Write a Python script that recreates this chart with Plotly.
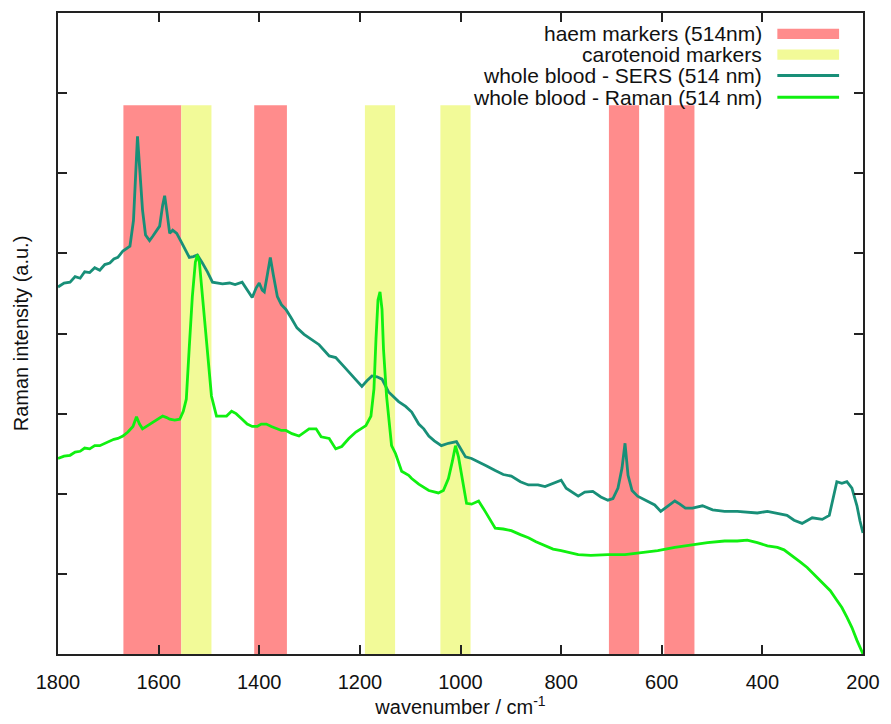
import plotly.graph_objects as go

# ---------------- data ----------------
sers_wn = [1800, 1788, 1776, 1766, 1756, 1747, 1737, 1727, 1717, 1707, 1697, 1689, 1681, 1671, 1657, 1650, 1642, 1636, 1632, 1626, 1618,
           1612, 1604, 1598, 1592, 1588, 1584, 1578, 1572, 1564, 1554, 1547, 1539, 1531, 1523, 1513,
           1503, 1493, 1483, 1473, 1459, 1448, 1434, 1424, 1414, 1406, 1400, 1394, 1390, 1384, 1378,
           1372, 1364, 1356, 1347, 1337, 1325, 1311, 1297, 1281, 1261, 1248, 1232, 1218, 1206, 1196,
           1186, 1176, 1166, 1156, 1143, 1133, 1123, 1109, 1097, 1083, 1073, 1063, 1052, 1038, 1024,
           1008, 998, 990, 978, 964, 949, 931, 915, 899, 881, 865, 846, 832, 816, 800,
           790, 780, 766, 753, 737, 721, 707, 697, 687, 679, 673, 667, 659, 648, 632,
           614, 602, 588, 574, 564, 553, 539, 519, 499, 475, 450, 430, 410, 390, 370,
           351, 337, 321, 301, 281, 267, 260, 252, 242, 232, 222, 212, 206, 200]
sers_int = [4.58, 4.63, 4.64, 4.71, 4.69, 4.77, 4.76, 4.82, 4.79, 4.86, 4.88, 4.93, 4.95, 5.03, 5.09, 5.41, 6.46, 5.97, 5.54, 5.23, 5.16,
            5.21, 5.29, 5.34, 5.60, 5.72, 5.54, 5.25, 5.29, 5.25, 5.13, 5.04, 4.95, 4.96, 4.98, 4.88,
            4.77, 4.64, 4.63, 4.62, 4.63, 4.61, 4.64, 4.54, 4.45, 4.57, 4.63, 4.54, 4.52, 4.73, 4.95,
            4.73, 4.46, 4.36, 4.30, 4.20, 4.07, 3.99, 3.93, 3.86, 3.72, 3.70, 3.59, 3.49, 3.41, 3.34,
            3.41, 3.47, 3.46, 3.43, 3.27, 3.21, 3.15, 3.09, 3.02, 2.87, 2.81, 2.72, 2.66, 2.60, 2.63,
            2.65, 2.54, 2.46, 2.44, 2.40, 2.35, 2.29, 2.24, 2.22, 2.15, 2.11, 2.11, 2.09, 2.13, 2.17,
            2.07, 2.03, 1.97, 2.02, 2.03, 1.96, 1.92, 1.94, 2.07, 2.32, 2.63, 2.23, 2.04, 1.97, 1.92,
            1.86, 1.78, 1.85, 1.91, 1.87, 1.82, 1.82, 1.85, 1.80, 1.78, 1.78, 1.77, 1.76, 1.78, 1.75,
            1.73, 1.67, 1.63, 1.70, 1.68, 1.73, 1.94, 2.15, 2.13, 2.15, 2.07, 1.85, 1.66, 1.51]

raman_wn = [1800, 1788, 1776, 1766, 1756, 1747, 1737, 1727, 1717, 1707, 1697, 1689, 1681, 1671, 1661, 1651, 1644, 1638, 1632, 1622, 1612,
            1602, 1592, 1584, 1578, 1568, 1558, 1551, 1545, 1539, 1533, 1527, 1523, 1519, 1513, 1505,
            1495, 1485, 1475, 1465, 1455, 1446, 1434, 1424, 1414, 1404, 1396, 1386, 1376, 1366, 1356,
            1347, 1335, 1321, 1311, 1301, 1287, 1277, 1261, 1248, 1236, 1222, 1208, 1196, 1188, 1178,
            1172, 1168, 1164, 1160, 1156, 1153, 1147, 1137, 1129, 1117, 1103, 1097, 1083, 1063, 1044,
            1034, 1024, 1016, 1010, 1004, 998, 992, 988, 978, 964, 951, 941, 931, 915, 899,
            881, 865, 850, 832, 816, 800, 782, 766, 741, 707, 673, 642, 608, 574, 543,
            509, 475, 450, 430, 410, 390, 370, 357, 341, 325, 311, 295, 281, 265, 252,
            242, 232, 222, 212, 200]
raman_int = [2.44, 2.47, 2.48, 2.52, 2.53, 2.57, 2.56, 2.60, 2.60, 2.63, 2.65, 2.68, 2.69, 2.72, 2.77, 2.84, 2.96, 2.87, 2.81, 2.85, 2.89,
             2.93, 2.97, 2.95, 2.93, 2.92, 2.93, 3.03, 3.18, 3.84, 4.46, 4.89, 4.98, 4.89, 4.46, 3.84,
             3.22, 2.97, 2.97, 2.97, 3.03, 3.00, 2.93, 2.87, 2.84, 2.84, 2.87, 2.87, 2.84, 2.81, 2.79,
             2.79, 2.75, 2.72, 2.76, 2.81, 2.81, 2.71, 2.69, 2.56, 2.59, 2.69, 2.77, 2.82, 2.85, 2.97,
             3.31, 3.93, 4.42, 4.52, 4.30, 3.80, 3.22, 2.60, 2.50, 2.28, 2.23, 2.19, 2.12, 2.04, 2.01,
             2.04, 2.19, 2.41, 2.60, 2.46, 2.23, 2.01, 1.88, 1.87, 1.91, 1.78, 1.67, 1.57, 1.56, 1.54,
             1.49, 1.45, 1.40, 1.35, 1.31, 1.29, 1.26, 1.24, 1.23, 1.24, 1.24, 1.26, 1.29, 1.33, 1.36,
             1.39, 1.41, 1.41, 1.42, 1.39, 1.35, 1.33, 1.30, 1.23, 1.15, 1.08, 0.98, 0.89, 0.79, 0.67,
             0.58, 0.46, 0.33, 0.17, 0.00]

haem_bands = [(1670, 1555), (1410, 1345), (705, 645), (595, 535)]
carotenoid_bands = [(1555, 1495), (1190, 1130), (1040, 980)]
band_top = 6.85

legend_names = ["haem markers (514nm)", "carotenoid markers",
                "whole blood - SERS (514 nm)", "whole blood - Raman (514 nm)"]
x_ticks = [1800, 1600, 1400, 1200, 1000, 800, 600, 400, 200]
y_ticks = [0, 1, 2, 3, 4, 5, 6, 7, 8]

HAEM_C = "#ff8c8c"
CARO_C = "#f2fa98"
SERS_C = "#188f78"
RAMAN_C = "#10f010"
FONT = "Liberation Sans, Arial, sans-serif"

# ---------------- figure ----------------
fig = go.Figure()

for (a, b) in haem_bands:
    fig.add_shape(type="rect", xref="x", yref="y", x0=a, x1=b, y0=0, y1=band_top,
                  fillcolor=HAEM_C, line_width=0, layer="below")
for (a, b) in carotenoid_bands:
    fig.add_shape(type="rect", xref="x", yref="y", x0=a, x1=b, y0=0, y1=band_top,
                  fillcolor=CARO_C, line_width=0, layer="below")

fig.add_trace(go.Scatter(x=sers_wn, y=sers_int, mode="lines", name=legend_names[2],
                         line=dict(color=SERS_C, width=2.8), showlegend=False))
fig.add_trace(go.Scatter(x=raman_wn, y=raman_int, mode="lines", name=legend_names[3],
                         line=dict(color=RAMAN_C, width=2.8), showlegend=False))

# custom legend (text left of key, gnuplot style)
row_y = [0.9675, 0.935, 0.9025, 0.8684]
text_x = 0.8775
key_x0, key_x1 = 0.8936, 0.9703
key_styles = [("rect", HAEM_C), ("rect", CARO_C), ("line", SERS_C), ("line", RAMAN_C)]
for name, yy, (kind, col) in zip(legend_names, row_y, key_styles):
    fig.add_annotation(x=text_x, y=yy, xref="paper", yref="paper", text=name,
                       showarrow=False, xanchor="right", yanchor="middle",
                       font=dict(family=FONT, size=21, color="#111"))
    if kind == "rect":
        fig.add_shape(type="rect", xref="paper", yref="paper", x0=key_x0, x1=key_x1,
                      y0=yy - 0.008, y1=yy + 0.008, fillcolor=col, line_width=0)
    else:
        fig.add_shape(type="line", xref="paper", yref="paper", x0=key_x0, x1=key_x1,
                      y0=yy, y1=yy, line=dict(color=col, width=3))

fig.update_layout(
    width=891, height=724,
    margin=dict(l=58, r=25, t=11, b=67),
    paper_bgcolor="white", plot_bgcolor="white",
    font=dict(family=FONT, size=20, color="#111"),
    showlegend=False,
)
fig.update_xaxes(
    range=[1800, 200], tickvals=x_ticks,
    ticks="inside", ticklen=9, tickwidth=1.5, tickcolor="#222",
    showline=True, linecolor="#222", linewidth=1.5, mirror="ticks",
    showgrid=False, zeroline=False,
    title=dict(text="wavenumber / cm<sup>-1</sup>", font=dict(size=20), standoff=6),
    tickfont=dict(size=20), ticklabelstandoff=9,
)
fig.update_yaxes(
    range=[0, 8], tickvals=y_ticks, showticklabels=False,
    ticks="inside", ticklen=9, tickwidth=1.5, tickcolor="#222",
    showline=True, linecolor="#222", linewidth=1.5, mirror="ticks",
    showgrid=False, zeroline=False,
    title=dict(text="Raman intensity (a.u.)", font=dict(size=20), standoff=22),
)

fig.write_html("out.html")
